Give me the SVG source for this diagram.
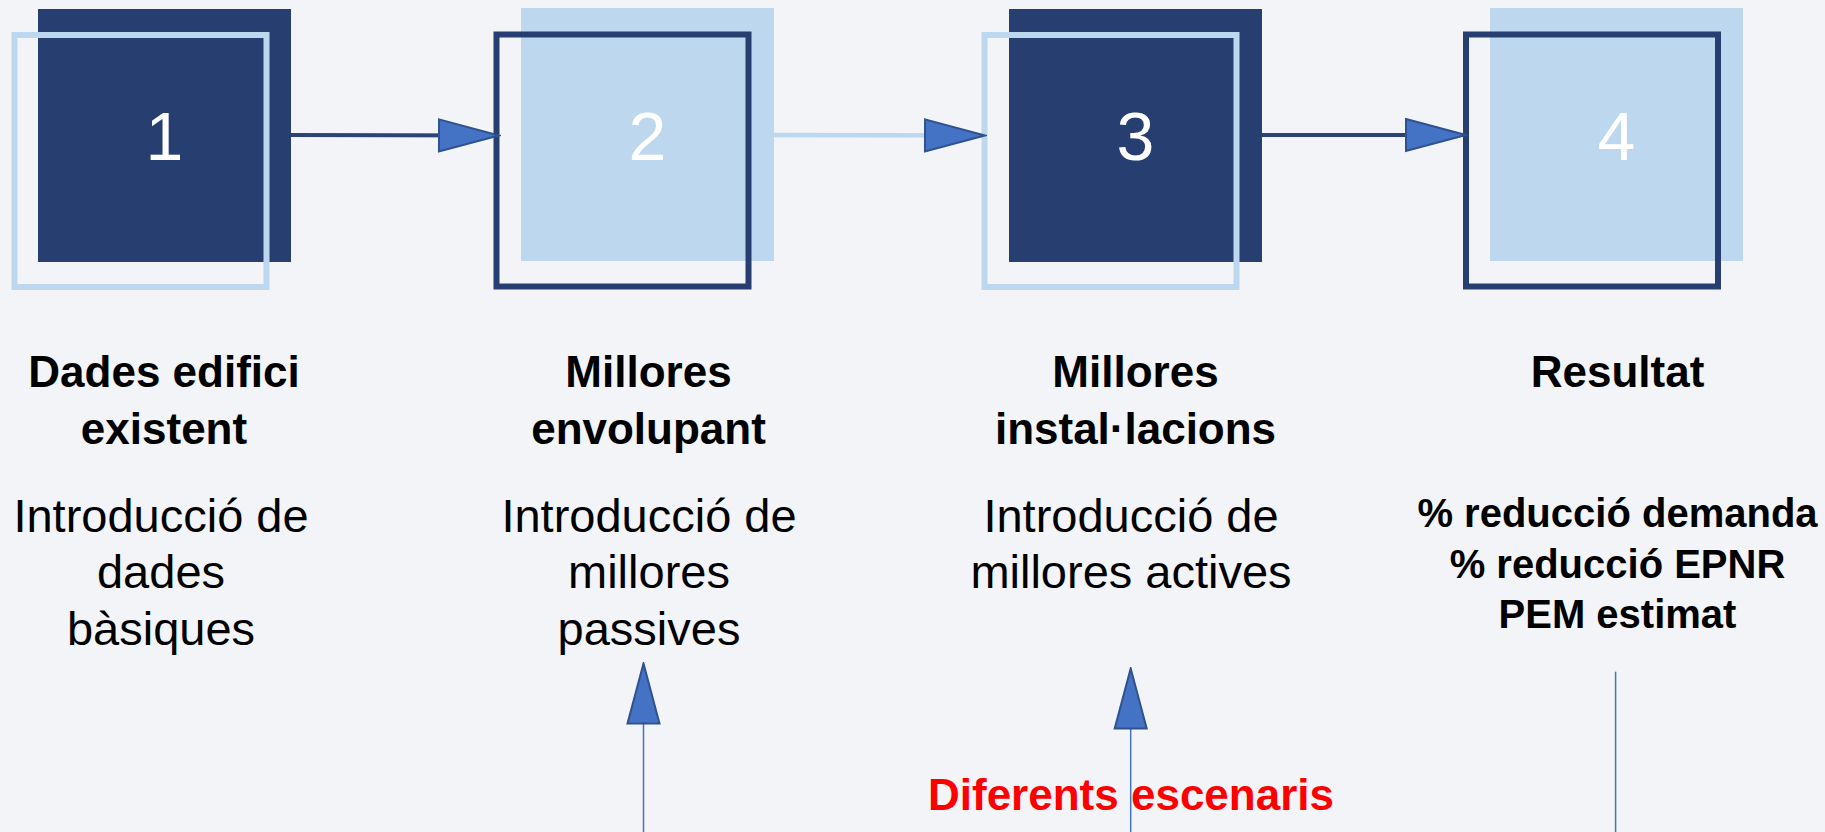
<svg xmlns="http://www.w3.org/2000/svg" width="1825" height="832" viewBox="0 0 1825 832">
<defs>
<style>
.dark{fill:#263F70}
.light{fill:#BDD7EE}
.olight{fill:none;stroke:#BDD7EE;stroke-width:6}
.odark{fill:none;stroke:#263F70;stroke-width:6}
.num{font-family:"Liberation Sans",Arial,sans-serif;font-size:68px;fill:#FFFFFF;text-anchor:middle}
.title{font-family:"Liberation Sans",Arial,sans-serif;font-size:44px;font-weight:bold;fill:#000000;text-anchor:middle}
.desc{font-family:"Liberation Sans",Arial,sans-serif;font-size:47px;fill:#000000;text-anchor:middle}
.res{font-family:"Liberation Sans",Arial,sans-serif;font-size:40px;font-weight:bold;fill:#000000;text-anchor:middle}
.red{font-family:"Liberation Sans",Arial,sans-serif;font-size:44px;font-weight:bold;fill:#FF0000}
.hd{stroke:#2B4475;stroke-width:4;fill:none}
.hl{stroke:#BDD7EE;stroke-width:4.5;fill:none}
.vt{stroke:#4472C4;stroke-width:1.5;fill:none}
</style>
<marker id="tri" markerUnits="userSpaceOnUse" markerWidth="64" markerHeight="36" viewBox="-2 -2 64 36" refX="60" refY="16" orient="auto">
<path d="M0,0 L60,16 L0,32 Z" fill="#4472C4" stroke="#2F528F" stroke-width="2" stroke-linejoin="miter"/>
</marker>
</defs>
<rect x="0" y="0" width="1825" height="832" fill="#F2F4F8"/>

<g id="node1">
<rect class="dark" x="38" y="9" width="253" height="253"/>
<rect class="olight" x="14.5" y="35" width="252" height="252"/>
<text class="num" x="164.5" y="160">1</text>
<text class="title" x="164" y="387">Dades edifici</text>
<text class="title" x="164" y="444">existent</text>
<text class="desc" x="161" y="532">Introducció de</text>
<text class="desc" x="161" y="588">dades</text>
<text class="desc" x="161" y="645">bàsiques</text>
</g>

<g id="node2">
<rect class="light" x="521" y="8" width="253" height="253"/>
<rect class="odark" x="496.5" y="34.5" width="252" height="252"/>
<text class="num" x="647.5" y="160">2</text>
<text class="title" x="648.5" y="387">Millores</text>
<text class="title" x="648.5" y="444">envolupant</text>
<text class="desc" x="649" y="532">Introducció de</text>
<text class="desc" x="649" y="588">millores</text>
<text class="desc" x="649" y="645">passives</text>
</g>

<g id="node3">
<rect class="dark" x="1009" y="9" width="253" height="253"/>
<rect class="olight" x="984.5" y="35" width="252" height="252"/>
<text class="num" x="1135.5" y="160">3</text>
<text class="title" x="1135.5" y="387">Millores</text>
<text class="title" x="1135.5" y="444">instal·lacions</text>
<text class="desc" x="1131" y="532">Introducció de</text>
<text class="desc" x="1131" y="588">millores actives</text>
</g>

<g id="node4">
<rect class="light" x="1490" y="8" width="253" height="253"/>
<rect class="odark" x="1466" y="34.5" width="252" height="252"/>
<text class="num" x="1616.5" y="160">4</text>
<text class="title" x="1617.5" y="387">Resultat</text>
<text class="res" x="1617.5" y="527">% reducció demanda</text>
<text class="res" x="1617.5" y="578">% reducció EPNR</text>
<text class="res" x="1617.5" y="628">PEM estimat</text>
</g>

<g id="scenarios">
<text class="red" x="928" y="810">Diferents escenaris</text>
</g>

<g id="connectors">
<line class="hd" x1="291" y1="135" x2="499" y2="135.5" marker-end="url(#tri)"/>
<line class="hl" x1="774" y1="135" x2="985" y2="135.5" marker-end="url(#tri)"/>
<line class="hd" x1="1262" y1="135" x2="1466" y2="135" marker-end="url(#tri)"/>
<line class="vt" x1="643.5" y1="832" x2="643.5" y2="663.5" marker-end="url(#tri)"/>
<line class="vt" x1="1130.7" y1="832" x2="1130.7" y2="668.5" marker-end="url(#tri)"/>
<line class="vt" x1="1615.6" y1="832" x2="1615.6" y2="671.7"/>
</g>
</svg>
